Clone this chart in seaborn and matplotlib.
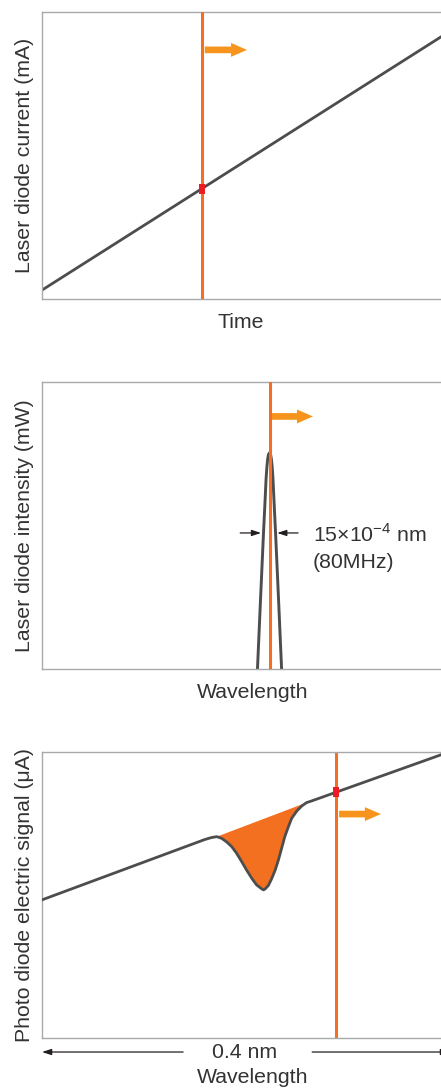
import matplotlib
matplotlib.use("Agg")
import matplotlib.pyplot as plt
import numpy as np
import seaborn as sns

# panel 1: laser diode current ramp vs. time
time = [0, 100]
current = [3.1, 92.0]
time_probe = 39.8

# panel 2: laser line spectrum
wavelength_peak = [53.4, 53.6, 54.35, 55.1, 55.5, 55.75, 55.95, 56.15, 56.35, 56.6,
                   56.85, 57.05, 57.25, 57.45, 57.7, 58.1, 58.85, 59.6, 59.8]
intensity_peak = [-4, 0, 24, 47.4, 59.0, 66.5, 70.5, 73.3, 74.8, 75.3,
                  74.8, 73.3, 70.5, 66.5, 59.0, 47.4, 24, 0, -4]
laser_probe = 56.6

# panel 3: photo diode signal with absorption dip
scan_wl = [0, 40.5, 42.2, 43.5, 44.7, 45.9, 47.2, 48.4, 49.7, 50.9, 52.2, 53.4,
           54.7, 55.1, 55.5, 56.3, 57.1, 58.0, 58.8, 59.6, 60.4, 61.3, 62.1, 63.4,
           64.6, 65.8, 67.1, 100]
photo_signal = [48.3, 69.4, 70.1, 70.4, 69.8, 68.6, 66.9, 64.6, 61.6, 58.7, 55.8, 53.5,
                52.1, 51.8, 52.1, 53.3, 55.6, 58.7, 62.2, 66.3, 70.4, 73.9, 76.8, 79.4,
                81.1, 82.3, 82.9, 99.4]
scan_probe = 73.1

GRAY = "#4d4d4d"
LINE_ORANGE = "#f37021"
ARROW_ORANGE = "#f7941d"
RED = "#ed1c24"
SPINE = "#a7a9ac"
TEXT = "#333333"
FS = 15.3

sns.set_theme(style="white")
plt.rcParams["font.family"] = ["Liberation Sans", "DejaVu Sans"]
plt.rcParams["mathtext.fontset"] = "custom"
plt.rcParams["mathtext.rm"] = "Liberation Sans"

fig = plt.figure(figsize=(4.41, 10.88), dpi=100)
left, width = 42 / 441, 402 / 441
ax1 = fig.add_axes([left, 1 - 299 / 1088, width, 287 / 1088])
ax2 = fig.add_axes([left, 1 - 669 / 1088, width, 287 / 1088])
ax3 = fig.add_axes([left, 1 - 1038 / 1088, width, 286 / 1088])

probe_marker = [(-0.55, -1), (0.55, -1), (0.55, 1), (-0.55, 1), (-0.55, -1)]


def setup(ax, ylabel, xlabel, xlab_x, xlab_y):
    ax.set_xlim(0, 100)
    ax.set_ylim(0, 100)
    ax.set_xticks([])
    ax.set_yticks([])
    for s in ax.spines.values():
        s.set_color(SPINE)
        s.set_linewidth(1.0)
    ax.set_ylabel(ylabel, fontsize=FS, color=TEXT)
    ax.yaxis.set_label_coords(-0.021, 0.5)
    ax.set_xlabel(xlabel, fontsize=FS, color=TEXT)
    ax.xaxis.set_label_coords(xlab_x, xlab_y)


def push_arrow(ax, x0, x1, y):
    ax.annotate("", xy=(x1, y), xytext=(x0, y),
                arrowprops=dict(arrowstyle="simple,head_length=1.15,head_width=1.0,tail_width=0.48",
                                fc=ARROW_ORANGE, ec="none", shrinkA=0, shrinkB=0,
                                mutation_scale=10))


def thin_arrow(ax, x0, x1, y, transform=None):
    ax.annotate("", xy=(x1, y), xytext=(x0, y),
                xycoords=transform if transform is not None else "data",
                annotation_clip=False,
                arrowprops=dict(arrowstyle="-|>,head_length=0.55,head_width=0.18",
                                color="#231f20", lw=0.9, shrinkA=0, shrinkB=0,
                                mutation_scale=10))


# panel 1
sns.lineplot(x=time, y=current, ax=ax1, color=GRAY, lw=2.0, sort=False)
ax1.axvline(time_probe, color=LINE_ORANGE, lw=2.2, zorder=3)
ax1.plot([time_probe], [np.interp(time_probe, time, current)], ls="none",
         marker=probe_marker, ms=7, color=RED, mew=0, zorder=4)
push_arrow(ax1, 40.5, 51, 86.8)
setup(ax1, "Laser diode current (mA)", "Time", 0.495, -0.049)

# panel 2
sns.lineplot(x=wavelength_peak, y=intensity_peak, ax=ax2, color=GRAY, lw=2.1, sort=False)
ax2.axvline(laser_probe, color=LINE_ORANGE, lw=2.2, zorder=3)
push_arrow(ax2, 57.2, 67.4, 88)
thin_arrow(ax2, 49.3, 54.5, 47.4)
thin_arrow(ax2, 63.7, 58.5, 47.4)
ax2.text(67.4, 44.25, "15×10$^{\\mathregular{-4}}$ nm", fontsize=FS, color=TEXT,
         ha="left", va="baseline")
ax2.text(67.3, 35.2, "(80MHz)", fontsize=FS, color=TEXT, ha="left", va="baseline")
setup(ax2, "Laser diode intensity (mW)", "Wavelength", 0.525, -0.049)

# panel 3
dip = slice(3, 26)
ax3.fill(scan_wl[dip], photo_signal[dip], color=LINE_ORANGE, lw=0, zorder=1)
ax3.axvline(scan_probe, color=LINE_ORANGE, lw=2.2, zorder=2)
sns.lineplot(x=scan_wl, y=photo_signal, ax=ax3, color=GRAY, lw=2.0, sort=False, zorder=3)
ax3.plot([scan_probe], [np.interp(scan_probe, scan_wl, photo_signal)], ls="none",
         marker=probe_marker, ms=7, color=RED, mew=0, zorder=4)
push_arrow(ax3, 73.9, 84.3, 78.3)
xt = ax3.get_xaxis_transform()
thin_arrow(ax3, 35.1, 0, -0.049, transform=xt)
# right-hand head sits just past the figure edge, as in the original crop
thin_arrow(ax3, 67.2, 101.5, -0.049, transform=xt)
ax3.text(50.5, -0.049, "0.4 nm", transform=xt, fontsize=FS, color=TEXT,
         ha="center", va="center")
setup(ax3, "Photo diode electric signal (μA)", "Wavelength", 0.525, -0.105)

fig.savefig("out.png", dpi=100, facecolor="white")
